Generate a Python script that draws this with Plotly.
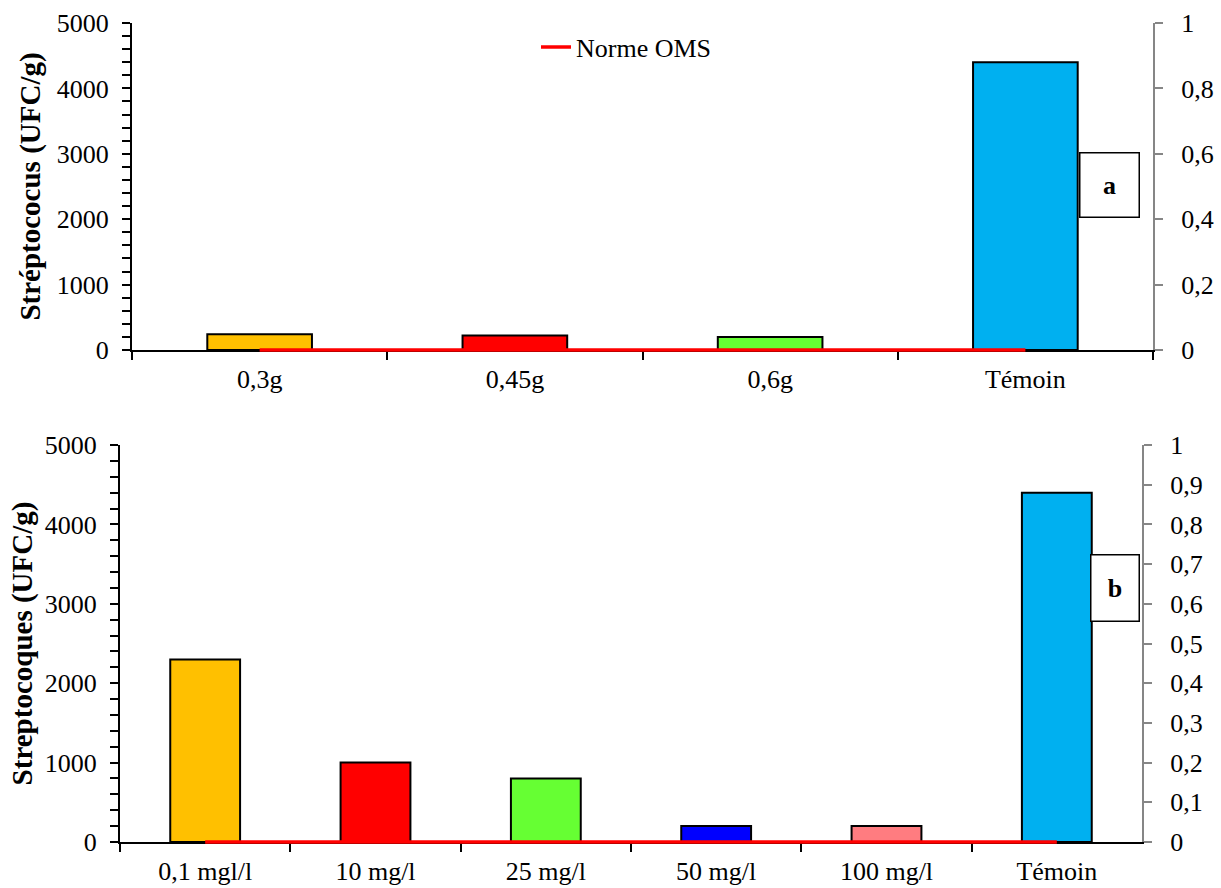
import plotly.graph_objects as go

# --- data -------------------------------------------------------------
cats_a = ["0,3g", "0,45g", "0,6g", "Témoin"]
vals_a = [240, 220, 200, 4400]
colors_a = ["#FFC000", "#FF0000", "#66FF33", "#00B0F0"]

cats_b = ["0,1 mgl/l", "10 mg/l", "25 mg/l", "50 mg/l", "100 mg/l", "Témoin"]
vals_b = [2300, 1000, 800, 200, 200, 4400]
colors_b = ["#FFC000", "#FF0000", "#66FF33", "#0000FF", "#FF7C80", "#00B0F0"]

norme_oms = 0  # WHO limit, read on the right-hand scale

# left scale: a tick every 200 UFC/g, labelled every 1000
left_ticks = list(range(0, 5001, 200))
left_labels = [str(v) if v % 1000 == 0 else "" for v in left_ticks]

right_ticks_a = [0, 0.2, 0.4, 0.6, 0.8, 1]
right_labels_a = ["0", "0,2", "0,4", "0,6", "0,8", "1"]
right_ticks_b = [0, 0.1, 0.2, 0.3, 0.4, 0.5, 0.6, 0.7, 0.8, 0.9, 1]
right_labels_b = ["0", "0,1", "0,2", "0,3", "0,4", "0,5", "0,6", "0,7", "0,8", "0,9", "1"]

# --- page geometry (pixels) ------------------------------------------
W, H = 1221, 888


def fx(p):
    return p / W


def fy(p):
    return 1 - p / H


FONT = "Liberation Serif, Times New Roman, serif"
TICK = dict(family=FONT, size=26, color="black")
BAND = 12  # half-height of the thin band that carries the OMS line

fig = go.Figure()

# panel a
fig.add_trace(go.Bar(
    x=cats_a, y=vals_a, xaxis="x", yaxis="y",
    marker=dict(color=colors_a, line=dict(color="black", width=2)),
    showlegend=False, hoverinfo="x+y",
))
# empty series that puts the right-hand scale on the page
fig.add_trace(go.Scatter(
    x=cats_a, y=[None] * len(cats_a), xaxis="x", yaxis="y2",
    mode="lines", showlegend=False, hoverinfo="skip",
))
fig.add_trace(go.Scatter(
    x=[cats_a[0], cats_a[-1]], y=[norme_oms, norme_oms],
    xaxis="x", yaxis="y3", mode="lines", name="Norme OMS",
    line=dict(color="#FF0000", width=3.5), showlegend=True,
))

# panel b
fig.add_trace(go.Bar(
    x=cats_b, y=vals_b, xaxis="x2", yaxis="y4",
    marker=dict(color=colors_b, line=dict(color="black", width=2)),
    showlegend=False, hoverinfo="x+y",
))
fig.add_trace(go.Scatter(
    x=cats_b, y=[None] * len(cats_b), xaxis="x2", yaxis="y5",
    mode="lines", showlegend=False, hoverinfo="skip",
))
fig.add_trace(go.Scatter(
    x=[cats_b[0], cats_b[-1]], y=[norme_oms, norme_oms],
    xaxis="x2", yaxis="y6", mode="lines", name="Norme OMS",
    line=dict(color="#FF0000", width=3.5), showlegend=False,
))


def cat_axis(dom, anchor, n):
    return dict(
        domain=dom, anchor=anchor, type="category", range=[-0.5, n - 0.5],
        showline=True, linecolor="black", linewidth=2,
        ticks="outside", tickson="boundaries", ticklen=8, tickwidth=2,
        tickcolor="black", tickfont=TICK, ticklabelstandoff=5,
        showgrid=False, zeroline=False, fixedrange=True, automargin=False,
    )


def left_axis(dom, anchor, title, standoff):
    return dict(
        domain=dom, anchor=anchor, range=[0, 5000],
        tickmode="array", tickvals=left_ticks, ticktext=left_labels,
        showline=True, linecolor="black", linewidth=2,
        ticks="outside", ticklen=8, tickwidth=2, tickcolor="black",
        tickfont=TICK, ticklabelstandoff=8, showgrid=False, zeroline=False,
        title=dict(text="<b>" + title + "</b>",
                   font=dict(family=FONT, size=29, color="black"),
                   standoff=standoff),
        fixedrange=True, automargin=False,
    )


def right_axis(overlay, anchor, vals, labels):
    return dict(
        overlaying=overlay, anchor=anchor, side="right", range=[0, 1],
        tickmode="array", tickvals=vals, ticktext=labels,
        showline=True, linecolor="#868686", linewidth=2,
        ticks="outside", ticklen=8, tickwidth=1.5, tickcolor="#868686",
        tickfont=TICK, ticklabelstandoff=13,
        showgrid=False, zeroline=False, fixedrange=True, automargin=False,
    )


def band_axis(base_px):
    return dict(domain=[fy(base_px + BAND), fy(base_px - BAND)], anchor="free",
                position=0, range=[-1, 1], visible=False, fixedrange=True,
                automargin=False)


xa_dom = [fx(132), fx(1153)]
ya_dom = [fy(350), fy(23)]
xb_dom = [fx(120), fx(1142)]
yb_dom = [fy(842), fy(445)]

box_font = dict(family=FONT, size=26, color="black")

fig.update_layout(
    width=W, height=H,
    margin=dict(l=0, r=0, t=0, b=0, pad=0, autoexpand=False),
    paper_bgcolor="white", plot_bgcolor="rgba(0,0,0,0)",
    font=dict(family=FONT, color="black"),
    bargap=0.59,
    xaxis=cat_axis(xa_dom, "y", len(cats_a)),
    yaxis=left_axis(ya_dom, "x", "Stréptococus (UFC/g)", 8),
    yaxis2=right_axis("y", "x", right_ticks_a, right_labels_a),
    yaxis3=band_axis(350),
    xaxis2=cat_axis(xb_dom, "y4", len(cats_b)),
    yaxis4=left_axis(yb_dom, "x2", "Streptocoques (UFC/g)", 4),
    yaxis5=right_axis("y4", "x2", right_ticks_b, right_labels_b),
    yaxis6=band_axis(842),
    showlegend=True,
    legend=dict(x=fx(536), y=fy(47), xanchor="left", yanchor="middle",
                bgcolor="rgba(0,0,0,0)", borderwidth=0,
                font=dict(family=FONT, size=26, color="black")),
    annotations=[
        dict(x=fx(1109), y=fy(185.5), xref="paper", yref="paper",
             xanchor="center", yanchor="middle",
             text="<b>a</b>", showarrow=False, width=58, height=63,
             bordercolor="black", borderwidth=1.5, borderpad=0,
             bgcolor="white", font=box_font),
        dict(x=fx(1114.5), y=fy(587.5), xref="paper", yref="paper",
             xanchor="center", yanchor="middle",
             text="<b>b</b>", showarrow=False, width=47, height=65,
             bordercolor="black", borderwidth=1.5, borderpad=0,
             bgcolor="white", font=box_font),
    ],
)

fig.write_html("out.html")
